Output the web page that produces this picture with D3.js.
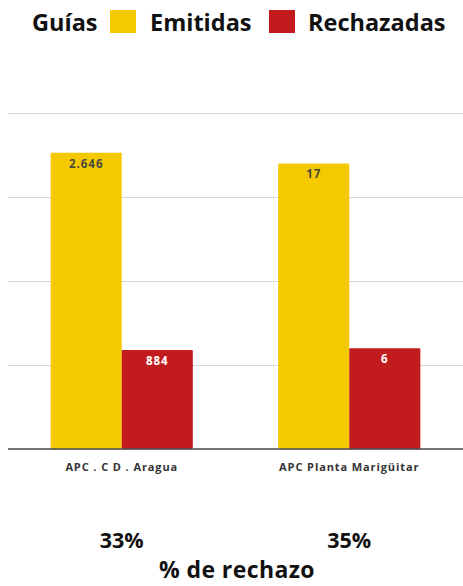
<!DOCTYPE html>
<html><head><meta charset="utf-8">
<script src="https://cdn.jsdelivr.net/npm/d3@7"></script>
<style>body{margin:0;background:#fff}svg{display:block}text{font-family:"Open Sans",sans-serif}</style>
</head><body><svg id="c" width="463" height="586"></svg>
<script>
const categories = ["APC . C D . Aragua", "APC Planta Marigüitar"];
const series = ["Emitidas", "Rechazadas"];
const emitidas = [2646, 17];
const rechazadas = [884, 6];
const emitidasLabels = ["2.646", "17"];
const rechazadasLabels = ["884", "6"];
const axisMax = [3000, 20];          // left axis for group 1, right axis for group 2
const gridTicksLeft = [0, 750, 1500, 2250, 3000];
const percentLabels = ["33%", "35%"];
const colors = ["#F5C900", "#C21B1E"];

const svg = d3.select("#c");
const pLeft = 8, pRight = 463, pTop = 113, pBottom = 449;

const x0 = d3.scaleBand().domain(categories).range([pLeft, pRight]).paddingInner(0).paddingOuter(0);
const x1 = d3.scaleBand().domain(series).range([0, x0.bandwidth()]).paddingInner(0).paddingOuter(0.6);
const yScales = axisMax.map(m => d3.scaleLinear().domain([0, m]).range([pBottom, pTop]));

// gridlines
const grid = svg.append("g").attr("transform", `translate(${pLeft},0)`)
  .call(d3.axisLeft(yScales[0]).tickValues(gridTicksLeft).tickSize(-(pRight - pLeft)).tickFormat(""));
grid.select(".domain").remove();
grid.selectAll(".tick line").attr("stroke", "#d6d6d6").attr("stroke-width", 1.2);

const data = categories.map((c, i) => ({
  cat: c, i,
  vals: [
    {s: series[0], v: emitidas[i], lab: emitidasLabels[i]},
    {s: series[1], v: rechazadas[i], lab: rechazadasLabels[i]}
  ]
}));

const g = svg.selectAll("g.grp").data(data).join("g").attr("class", "grp")
  .attr("transform", d => `translate(${x0(d.cat)},0)`);

g.selectAll("rect").data(d => d.vals.map(v => ({...v, i: d.i}))).join("rect")
  .attr("x", d => x1(d.s))
  .attr("width", x1.bandwidth())
  .attr("y", d => yScales[d.i](d.v))
  .attr("height", d => pBottom - yScales[d.i](d.v))
  .attr("fill", (d, j) => colors[j])
  .attr("rx", 1);

g.selectAll("text.val").data(d => d.vals.map(v => ({...v, i: d.i}))).join("text")
  .attr("class", "val")
  .attr("x", d => x1(d.s) + x1.bandwidth() / 2)
  .attr("y", d => yScales[d.i](d.v) + 15)
  .attr("text-anchor", "middle")
  .attr("font-size", 11.5)
  .attr("font-weight", 700)
  .attr("letter-spacing", 1)
  .attr("fill", (d, j) => j === 0 ? "#4a4a3a" : "#ffffff")
  .text(d => d.lab);

// baseline
svg.append("line").attr("x1", pLeft).attr("x2", pRight).attr("y1", pBottom).attr("y2", pBottom)
  .attr("stroke", "#4d4d4d").attr("stroke-width", 1.6);

// category labels
svg.selectAll("text.cat").data(categories).join("text").attr("class", "cat")
  .attr("x", d => x0(d) + x0.bandwidth() / 2)
  .attr("y", 470.5)
  .attr("text-anchor", "middle")
  .attr("font-size", 11)
  .attr("font-weight", 700)
  .attr("letter-spacing", 0.9)
  .attr("fill", "#333")
  .text(d => d);

// percent labels
svg.selectAll("text.pct").data(percentLabels).join("text").attr("class", "pct")
  .attr("x", (d, i) => x0(categories[i]) + x0.bandwidth() / 2)
  .attr("y", 548)
  .attr("text-anchor", "middle")
  .attr("font-size", 21.5)
  .attr("font-weight", 700)
  .attr("fill", "#111")
  .text(d => d);

svg.append("text").attr("x", 237).attr("y", 578).attr("text-anchor", "middle")
  .attr("font-size", 23).attr("font-weight", 700).attr("letter-spacing", 0.4)
  .attr("fill", "#111").text("% de rechazo");

// legend
const lg = svg.append("g");
const legendFont = 23.5;
lg.append("text").attr("x", 32).attr("y", 31).attr("font-size", legendFont).attr("font-weight", 700).attr("fill", "#111").text("Guías");
const items = [{x: 110, tx: 150, s: series[0]}, {x: 269, tx: 308, s: series[1]}];
items.forEach((it, j) => {
  lg.append("rect").attr("x", it.x).attr("y", 10).attr("width", 26).attr("height", 23).attr("fill", colors[j]);
  lg.append("text").attr("x", it.tx).attr("y", 31).attr("font-size", legendFont).attr("font-weight", 700).attr("fill", "#111").text(it.s);
});
</script></body></html>
